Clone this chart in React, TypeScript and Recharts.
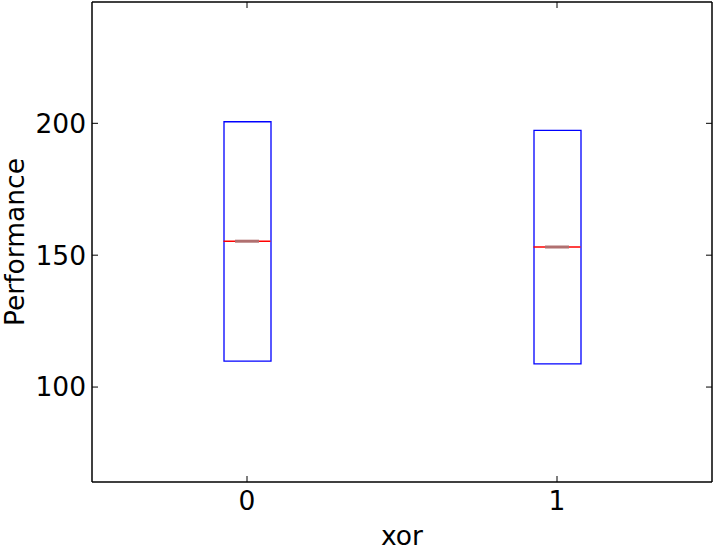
import React from 'react';
import { ComposedChart, Bar, Scatter, XAxis, YAxis } from 'recharts';

const groups = ['0', '1'];
const q1 = [109.85, 108.8];
const q3 = [200.6, 197.3];
const medians = [155.3, 153.1];
const yTicks = [100, 150, 200];

const data = groups.map((g, i) => ({ name: g, q1: q1[i], q3: q3[i], median: medians[i] }));

const font = 'DejaVu Sans, sans-serif';

const MedianMark = (props: any) => {
  const { cx, cy } = props;
  if (cx == null || cy == null) return null;
  return (
    <g>
      <line x1={cx - 23.5} x2={cx + 23.5} y1={cy} y2={cy} stroke="#ff0000" strokeWidth={1.5} />
      <line x1={cx - 12} x2={cx + 12} y1={cy} y2={cy} stroke="#b07070" strokeWidth={3} />
    </g>
  );
};

const NoMark = () => <g />;

export default function App() {
  const tickStyle = { fill: '#000', fontSize: 26.5, fontFamily: font };
  const axisLine = { stroke: '#000', strokeWidth: 1.5 };
  const tickLine = { stroke: '#000', strokeWidth: 1 };
  return (
    <div style={{ position: 'absolute', left: 0, top: 0, background: '#fff' }}>
      <ComposedChart width={713} height={552} data={data} margin={{ top: 1, right: 0, left: 0, bottom: 0 }}>
        <XAxis
          dataKey="name"
          height={70}
          axisLine={axisLine}
          tickLine={tickLine}
          tickSize={-6}
          tickMargin={15}
          tick={tickStyle}
          label={{ value: 'xor', position: 'insideBottom', offset: 7, fill: '#000', fontSize: 26.5, fontFamily: font }}
        />
        <XAxis
          xAxisId="top"
          dataKey="name"
          orientation="top"
          height={1}
          axisLine={axisLine}
          tickLine={tickLine}
          tickSize={-6}
          tickFormatter={() => ''}
        />
        <YAxis
          domain={[64, 246]}
          ticks={yTicks}
          allowDataOverflow
          width={92}
          axisLine={axisLine}
          tickLine={tickLine}
          tickSize={-6}
          tickMargin={12}
          tick={tickStyle}
          label={{ value: 'Performance', angle: -90, position: 'center', dx: -31, fill: '#000', fontSize: 26.5, fontFamily: font }}
        />
        <YAxis
          yAxisId="right"
          orientation="right"
          domain={[64, 246]}
          ticks={yTicks}
          allowDataOverflow
          width={1}
          axisLine={axisLine}
          tickLine={tickLine}
          tickSize={-6}
          tickFormatter={() => ''}
        />
        <Bar
          dataKey={(d: any) => [d.q1, d.q3]}
          barSize={47}
          fill="none"
          stroke="#0000ff"
          strokeWidth={1.3}
          isAnimationActive={false}
        />
        <Scatter dataKey="median" shape={<MedianMark />} isAnimationActive={false} />
        <Scatter dataKey="median" xAxisId="top" yAxisId="right" shape={<NoMark />} isAnimationActive={false} />
      </ComposedChart>
    </div>
  );
}
